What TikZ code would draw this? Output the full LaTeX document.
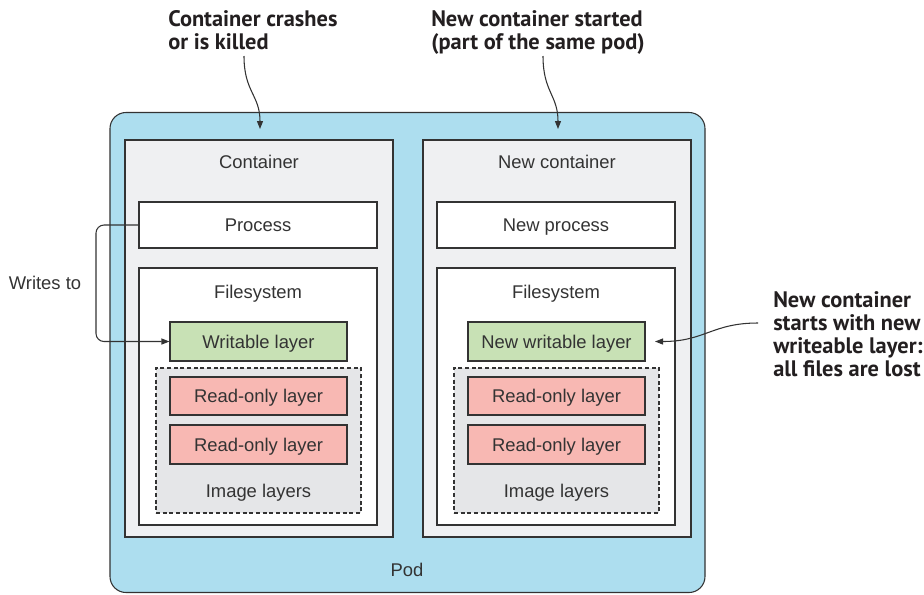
\documentclass[tikz,border=0pt]{standalone}
\usepackage{fontspec}
\setmainfont{Liberation Sans}
\newfontfamily\annfont{PT Sans}
\usetikzlibrary{arrows.meta}
\definecolor{podblue}{HTML}{ADDEEF}
\definecolor{contgray}{HTML}{EFF0F2}
\definecolor{imggray}{HTML}{E5E6E8}
\definecolor{wgreen}{HTML}{C8E1B5}
\definecolor{rored}{HTML}{F8B8B3}
\definecolor{linecol}{HTML}{333333}
\definecolor{anncol}{HTML}{231F20}
\begin{document}
\begin{tikzpicture}[x=0.75pt,y=-0.75pt,
  txt/.style={text=linecol, font=\fontsize{13.8}{16}\selectfont, text height=9.9pt, text depth=0pt, inner sep=0pt},
  box/.style={txt, draw=linecol, line width=0.8pt},
  podbox/.style={box, fill=podblue, rounded corners=12pt},
  contbox/.style={box, fill=contgray},
  whitebox/.style={box, fill=white},
  wlbox/.style={box, fill=wgreen},
  robox/.style={box, fill=rored},
  imgbox/.style={box, fill=imggray, dash pattern=on 3pt off 2pt},
  ann/.style={text=anncol, font=\annfont\bfseries\fontsize{16.8}{17.25}\selectfont, align=left, inner sep=0pt, anchor=base west},
  conn/.style={draw=linecol, line width=0.8pt, -{Triangle[length=6pt,width=4.5pt]}}
]
\useasboundingbox (0,0) rectangle (924,594);

% Pod
\node[podbox, minimum width=595*0.75pt, minimum height=480*0.75pt] (pod) at (407.5,352.5) {};
\node[txt] (podl) at (407,570) {Pod};

% Left container
\node[contbox, minimum width=268*0.75pt, minimum height=397*0.75pt] (cont1) at (259,338.5) {};
\node[txt] (lab1) at (259,162) {Container};
\node[whitebox, minimum width=238*0.75pt, minimum height=46*0.75pt] (proc1) at (258,225) {Process};
\node[whitebox, minimum width=238*0.75pt, minimum height=257*0.75pt] (fs1) at (258,396.5) {};
\node[txt] (fsl1) at (258,292) {Filesystem};
\node[wlbox, minimum width=177*0.75pt, minimum height=39*0.75pt] (wl1) at (258.5,341.5) {Writable layer};
\node[imgbox, minimum width=205*0.75pt, minimum height=145*0.75pt] (img1) at (258.5,440.5) {};
\node[txt] (imgl1) at (258.5,491) {Image layers};
\node[robox, minimum width=177*0.75pt, minimum height=38*0.75pt] (ro1a) at (258.5,396) {Read-only layer};
\node[robox, minimum width=177*0.75pt, minimum height=39*0.75pt] (ro1b) at (258.5,444.5) {Read-only layer};

% Right container
\node[contbox, minimum width=268*0.75pt, minimum height=397*0.75pt] (cont2) at (557,338.5) {};
\node[txt] (lab2) at (557,162) {New container};
\node[whitebox, minimum width=238*0.75pt, minimum height=46*0.75pt] (proc2) at (556,225) {New process};
\node[whitebox, minimum width=238*0.75pt, minimum height=257*0.75pt] (fs2) at (556,396.5) {};
\node[txt] (fsl2) at (556,292) {Filesystem};
\node[wlbox, minimum width=177*0.75pt, minimum height=39*0.75pt] (wl2) at (556.5,341.5) {New writable layer};
\node[imgbox, minimum width=205*0.75pt, minimum height=145*0.75pt] (img2) at (556.5,440.5) {};
\node[txt] (imgl2) at (556.5,491) {Image layers};
\node[robox, minimum width=177*0.75pt, minimum height=38*0.75pt] (ro2a) at (556.5,396) {Read-only layer};
\node[robox, minimum width=177*0.75pt, minimum height=39*0.75pt] (ro2b) at (556.5,444.5) {Read-only layer};

% Writes to
\node[txt] (wt) at (45,283) {Writes to};
\coordinate (bend) at (96,283);
\draw[conn, rounded corners=6pt] (proc1.west) -| (bend) |- (wl1.west);

% Annotations (anchor = baseline of last line)
\node[ann] (ann1) at (168,49) {Container crashes\\or is killed};
\node[ann] (ann2) at (431,49) {New container started\\(part of the same pod)};
\node[ann] (ann3) at (773,376) {New container\\starts with new\\writeable layer:\\all files are lost};

\coordinate (a1s) at (244,56);
\coordinate (a1e) at (260,129);
\coordinate (a2s) at (543,56);
\coordinate (a2e) at (558,129);
\coordinate (a3s) at (758,323);
\coordinate (a3e) at (655,341.5);
\draw[conn] (a1s) .. controls (244,92) and (260,95) .. (a1e);
\draw[conn] (a2s) .. controls (543,92) and (558,95) .. (a2e);
\draw[conn] (a3s) .. controls (712,323) and (705,341.5) .. (a3e);
\end{tikzpicture}
\end{document}
